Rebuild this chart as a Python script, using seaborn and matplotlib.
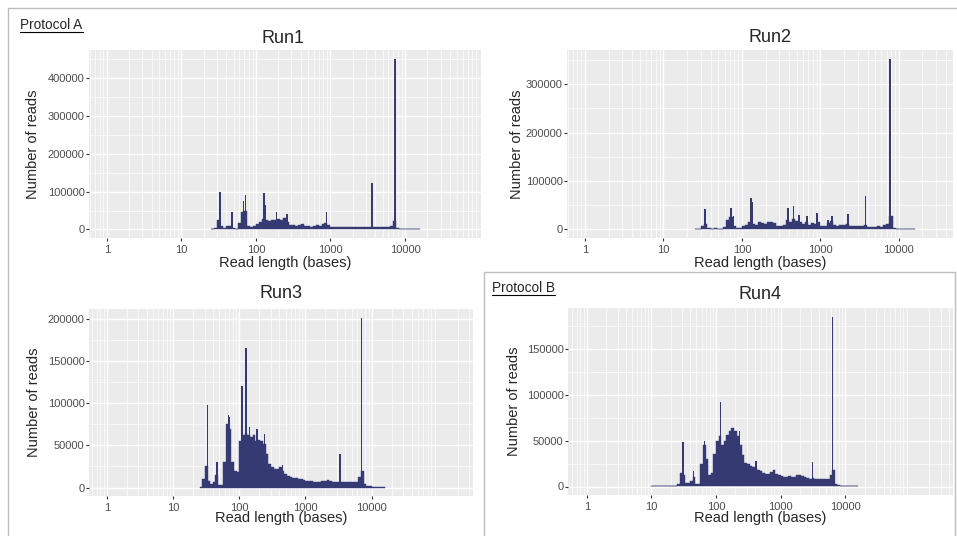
import numpy as np
import matplotlib
matplotlib.use("Agg")
import matplotlib.pyplot as plt
from matplotlib.lines import Line2D
from matplotlib.ticker import FixedLocator, LogLocator, MultipleLocator, NullFormatter, FuncFormatter
import seaborn as sns

# read-length histograms, counts in thousands of reads per 0.04-decade bin
BIN = 0.04
run1_start = 1.40
run1_bg = [2, 5, 25, 8, 3, 9, 10, 3, 2, 18, 45, 50, 10, 6, 10, 15, 20, 28, 25, 22,
           24, 26, 28, 26, 30, 20, 12, 11, 10, 12, 15, 10, 8, 7, 10, 13, 10, 15, 17, 12,
           6, 6, 7, 6, 7, 6, 7, 6, 7, 6, 7, 6, 6, 7, 6, 6, 6, 6, 6, 7,
           10, 22, 5, 2, 1.5, 1, 1, 1, 1, 1]
run1_spike_len = [33, 48, 68, 73, 129, 133, 190, 263, 891, 3631, 7345]
run1_spike_k = [98, 47, 75, 92, 96, 65, 47, 40, 45, 122, 452]

run2_start = 1.40
run2_bg = [0, 1, 8, 12, 2, 1, 2, 1, 1, 5, 20, 25, 8, 2, 3, 8, 9, 15, 12, 10,
           16, 14, 12, 15, 16, 14, 8, 7, 10, 20, 16, 22, 18, 15, 12, 16, 10, 14, 12, 16,
           8, 7, 14, 18, 10, 8, 9, 9, 12, 8, 7, 8, 7, 8, 10, 6, 6, 6, 7, 6,
           9, 12, 28, 3, 1, 1, 1, 1, 1, 1]
run2_spike_len = [34, 72, 78, 130, 135, 389, 452, 537, 676, 912, 1259, 1413, 2239, 3758, 7674]
run2_spike_k = [42, 44, 27, 65, 57, 45, 48, 30, 28, 33, 20, 27, 31, 70, 353]

run3_start = 1.40
run3_bg = [1, 10, 25, 8, 4, 6, 15, 3, 3, 30, 75, 70, 30, 20, 18, 55, 62, 65, 62, 60,
           62, 55, 56, 55, 52, 40, 28, 24, 22, 22, 24, 20, 16, 14, 12, 11, 11, 10, 10, 9,
           8, 8, 8, 7, 7, 7, 8, 8, 9, 8, 7, 7, 7, 7, 7, 7, 6, 6, 6, 7,
           12, 20, 4, 2, 1.5, 1, 1, 1, 1, 1]
run3_spike_len = [33, 46, 68, 70, 110, 126, 141, 186, 240, 447, 3311, 7000]
run3_spike_k = [98, 30, 86, 84, 121, 166, 72, 70, 64, 27, 40, 202]

run4_start = 1.00
run4_bg = [0.5, 0.5, 0.5, 0.5, 0.5, 0.5, 0.5, 0.5, 0.5, 0.5,
           3, 15, 12, 4, 4, 6, 10, 3, 3, 25, 45, 30, 12, 15, 35, 50, 55, 45, 50, 56,
           60, 64, 60, 55, 45, 34, 26, 24, 22, 21, 20, 18, 17, 15, 14, 14, 16, 18, 14, 12,
           11, 10, 10, 11, 10, 10, 12, 13, 11, 10, 9, 8, 9, 8, 8, 8, 8, 8, 8, 12,
           18, 3, 1.5, 1, 1, 1, 1, 1, 1, 1]
run4_spike_len = [1, 31, 45, 67, 119, 234, 417, 3162, 6457]
run4_spike_k = [1, 48, 17, 50, 92, 60, 28, 27, 185]

titles = ["Run1", "Run2", "Run3", "Run4"]
x_ticks = [1, 10, 100, 1000, 10000]

NAVY = "#353b72"
W, H = 957, 536

sns.set_theme(style="darkgrid", rc={"axes.facecolor": "#EBEBEB", "grid.color": "white"})
plt.rcParams["font.family"] = ["Liberation Sans", "DejaVu Sans"]

fig = plt.figure(figsize=(W / 100, H / 100), dpi=100)


def fx(px):
    return px / W


def fy(py):
    return 1 - py / H


def spike_edges(lengths, half=0.01):
    # narrow log-width bins around each spike, clipped so neighbours don't overlap
    lp = np.log10(lengths)
    mids = (lp[1:] + lp[:-1]) / 2
    lo = np.maximum(lp - half, np.r_[-np.inf, mids])
    hi = np.minimum(lp + half, np.r_[mids, np.inf])
    return list(np.ravel(np.column_stack([lo, hi])))


def panel(box, start, bg, sp_len, sp_k, xlog, ystep, title, title_xy, ylab_x, xlab_y):
    x0, y0, x1, y1 = box
    ax = fig.add_axes([fx(x0), fy(y1), fx(x1 - x0), (y1 - y0) / H])
    edges = start + BIN * np.arange(len(bg) + 1)
    centers = 10 ** (edges[:-1] + BIN / 2)
    sns.histplot(x=centers, weights=np.array(bg) * 1000, bins=list(edges), log_scale=True,
                 element="step", fill=True, color=NAVY, alpha=1, linewidth=0.3, ax=ax)
    sns.histplot(x=sp_len, weights=np.array(sp_k) * 1000, bins=spike_edges(sp_len), log_scale=True,
                 element="step", fill=True, color=NAVY, alpha=1, linewidth=0, ax=ax)

    top = max(max(bg), max(sp_k)) * 1000
    ax.set_ylim(-0.05 * top, 1.05 * top)
    ax.set_xlim(10 ** xlog[0], 10 ** xlog[1])

    ax.xaxis.set_major_locator(FixedLocator(x_ticks))
    ax.xaxis.set_major_formatter(FuncFormatter(lambda v, p: f"{v:.0f}"))
    ax.xaxis.set_minor_locator(LogLocator(base=10, subs=range(2, 10), numticks=20))
    ax.xaxis.set_minor_formatter(NullFormatter())
    ax.yaxis.set_major_locator(MultipleLocator(ystep))
    ax.yaxis.set_minor_locator(MultipleLocator(ystep / 2))
    ax.yaxis.set_major_formatter(FuncFormatter(lambda v, p: f"{v:.0f}"))

    ax.grid(which="major", color="white", linewidth=1.0)
    ax.grid(which="minor", color="white", linewidth=0.5)
    ax.tick_params(which="major", length=2.2, width=0.8, color="#333333",
                   labelsize=8, labelcolor="#4D4D4D", bottom=True, left=True)
    ax.tick_params(axis="x", which="major", pad=2.5)
    ax.tick_params(axis="y", which="major", pad=1)
    ax.tick_params(which="minor", length=0)
    for s in ax.spines.values():
        s.set_visible(False)
    ax.set_xlabel("")
    ax.set_ylabel("")

    fig.text(fx(title_xy[0]), fy(title_xy[1]), title, ha="center", va="baseline", fontsize=13)
    fig.text(fx(ylab_x), fy((y0 + y1) / 2), "Number of reads", rotation=90,
             ha="center", va="center", fontsize=10.5)
    fig.text(fx((x0 + x1) / 2), fy(xlab_y), "Read length (bases)",
             ha="center", va="baseline", fontsize=10.5)
    return ax


panel((89, 50, 481, 238), run1_start, run1_bg, run1_spike_len, run1_spike_k,
      (-0.24, 5.02), 100000, titles[0], (283, 43), 33, 266.5)
panel((567, 50, 953, 238), run2_start, run2_bg, run2_spike_len, run2_spike_k,
      (-0.23, 4.69), 100000, titles[1], (770, 42), 517, 266.5)
panel((89, 309, 473, 496), run3_start, run3_bg, run3_spike_len, run3_spike_k,
      (-0.27, 5.53), 50000, titles[2], (281, 298), 34, 522)
panel((568, 308, 953, 495), run4_start, run4_bg, run4_spike_len, run4_spike_k,
      (-0.29, 5.67), 50000, titles[3], (760, 299), 514, 522)

# protocol frames
frame = "#BDBDBD"
for (xa, ya, xb, yb) in [(8, 8, 957, 8), (8, 8, 8, 536),
                         (484, 271.5, 955, 271.5), (484, 271.5, 484, 536), (955, 271.5, 955, 536)]:
    fig.add_artist(Line2D([fx(xa), fx(xb)], [fy(ya), fy(yb)], color=frame, linewidth=1.0))

for label, x, y in [("Protocol A", 20, 29), ("Protocol B", 492, 292)]:
    fig.text(fx(x), fy(y), label, ha="left", va="baseline", fontsize=9.8)
    fig.add_artist(Line2D([fx(x), fx(x + 63)], [fy(y + 2.5), fy(y + 2.5)], color="black", linewidth=0.8))

fig.savefig("out.png", dpi=100)
